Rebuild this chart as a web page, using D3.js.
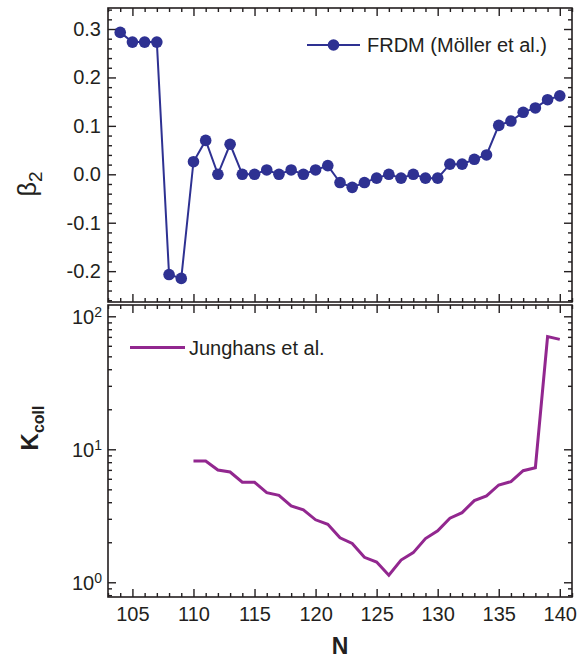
<!DOCTYPE html>
<html>
<head>
<meta charset="utf-8">
<script src="https://cdn.jsdelivr.net/npm/d3@7"></script>
<style>
  body { margin: 0; background: #fff; }
  svg { display: block; font-family: "Liberation Sans", Arial, Helvetica, sans-serif; }
</style>
</head>
<body>
<script>
// FRDM deformation (upper panel)
const frdmN = [104,105,106,107,108,109,110,111,112,113,114,115,116,117,118,119,120,121,122,
  123,124,125,126,127,128,129,130,131,132,133,134,135,136,137,138,139,140];
const frdmBeta2 = [0.293,0.273,0.273,0.273,-0.207,-0.215,0.026,0.070,0.000,0.062,0.000,0.000,
  0.009,0.000,0.009,0.000,0.009,0.018,-0.017,-0.027,-0.017,-0.008,0.000,-0.008,0.000,-0.008,
  -0.008,0.021,0.021,0.031,0.040,0.101,0.110,0.128,0.137,0.154,0.162];

// collective enhancement (lower panel)
const kollN = [110,111,112,113,114,115,116,117,118,119,120,121,122,123,124,125,126,127,128,
  129,130,131,132,133,134,135,136,137,138,139,140];
const kollK = [8.17,8.17,6.99,6.75,5.65,5.65,4.72,4.51,3.75,3.50,2.95,2.73,2.16,1.96,1.54,1.42,
  1.13,1.47,1.67,2.13,2.44,3.03,3.34,4.11,4.46,5.39,5.71,6.90,7.27,70.3,67.1];

const nTicks = [105,110,115,120,125,130,135,140];
const nMinor = [103,104,106,107,108,109,111,112,113,114,116,117,118,119,121,122,123,124,126,
  127,128,129,131,132,133,134,136,137,138,139,141];
const betaTicks = [-0.2,-0.1,0.0,0.1,0.2,0.3];
const betaMinor = [-0.26,-0.24,-0.22,-0.18,-0.16,-0.14,-0.12,-0.08,-0.06,-0.04,-0.02,0.02,0.04,
  0.06,0.08,0.12,0.14,0.16,0.18,0.22,0.24,0.26,0.28,0.32,0.34];
const kTicks = [1,10,100];
const kMinor = [0.8,0.9,2,3,4,5,6,7,8,9,20,30,40,50,60,70,80,90];

const blue = "#2e3192", purple = "#92278f";

const W = 586, H = 658;
const left = 108, right = 572;
const top1 = 8, bot1 = 302, top2 = 305, bot2 = 597;

const svg = d3.select("body").append("svg").attr("width", W).attr("height", H);

const x = d3.scaleLinear().domain([103, 141]).range([left, right]);
const yb = d3.scaleLinear().domain([-0.2637, 0.3434]).range([bot1, top1]);
const yk = d3.scaleLog().domain([0.775, 121.6]).range([bot2, top2]);

function frame(t, b) {
  svg.append("rect").attr("x", left).attr("y", t).attr("width", right - left).attr("height", b - t)
    .attr("fill", "none").attr("stroke", "#231f20").attr("stroke-width", 1.6);
}

function put(axis, tx, ty, cls) {
  const g = svg.append("g").attr("transform", `translate(${tx},${ty})`).call(axis);
  g.select(".domain").remove();
  g.selectAll(".tick line").attr("stroke", "#231f20").attr("stroke-width", 1.4);
  g.selectAll("text").attr("fill", "#231f20").style("font-size", "20px");
  return g;
}

function ticksAll(xs, ys, yv, yMinor, t, b, yfmt) {
  // x ticks, bottom and top
  put(d3.axisBottom(x).tickValues(nTicks).tickSize(-8).tickFormat(""), 0, b);
  put(d3.axisBottom(x).tickValues(nMinor).tickSize(-4).tickFormat(""), 0, b);
  put(d3.axisTop(x).tickValues(nTicks).tickSize(-8).tickFormat(""), 0, t);
  put(d3.axisTop(x).tickValues(nMinor).tickSize(-4).tickFormat(""), 0, t);
  // y ticks, left and right
  put(d3.axisLeft(ys).tickValues(yv).tickSize(-8).tickPadding(7).tickFormat(yfmt), left, 0);
  put(d3.axisLeft(ys).tickValues(yMinor).tickSize(-4).tickFormat(""), left, 0);
  put(d3.axisRight(ys).tickValues(yv).tickSize(-8).tickFormat(""), right, 0);
  put(d3.axisRight(ys).tickValues(yMinor).tickSize(-4).tickFormat(""), right, 0);
}

// ---- upper panel
ticksAll(x, yb, betaTicks, betaMinor, top1, bot1, d => d.toFixed(1));
frame(top1, bot1);

svg.append("path")
  .datum(frdmN.map((n, i) => [n, frdmBeta2[i]]))
  .attr("fill", "none").attr("stroke", blue).attr("stroke-width", 2)
  .attr("d", d3.line().x(d => x(d[0])).y(d => yb(d[1])));

svg.selectAll("circle.frdm")
  .data(frdmN.map((n, i) => [n, frdmBeta2[i]]))
  .join("circle").attr("class", "frdm")
  .attr("cx", d => x(d[0])).attr("cy", d => yb(d[1]))
  .attr("r", 5.8).attr("fill", blue);

// legend
svg.append("line").attr("x1", 307).attr("x2", 360).attr("y1", 45).attr("y2", 45)
  .attr("stroke", blue).attr("stroke-width", 2);
svg.append("circle").attr("cx", 333.5).attr("cy", 45).attr("r", 5.8).attr("fill", blue);
svg.append("text").attr("x", 367).attr("y", 45).attr("dy", "0.35em")
  .style("font-size", "20px").attr("fill", "#231f20").text("FRDM (Möller et al.)");

// β2 title
const bt = svg.append("text").attr("transform", "translate(36,184) rotate(-90)")
  .attr("text-anchor", "middle").attr("fill", "#231f20").style("font-size", "25px");
bt.append("tspan").text("β");
bt.append("tspan").attr("dy", 6).style("font-size", "19px").text("2");

// ---- lower panel
const kAx = ticksAll(x, yk, kTicks, kMinor, top2, bot2, () => "");
frame(top2, bot2);

// log tick labels with superscripts
kTicks.forEach(v => {
  const t = svg.append("text").attr("x", left - 6).attr("y", yk(v)).attr("dy", "0.4em")
    .attr("text-anchor", "end").attr("fill", "#231f20").style("font-size", "20px");
  t.append("tspan").text("10");
  t.append("tspan").attr("dy", "-0.55em").style("font-size", "14px").text(Math.round(Math.log10(v)));
});

// N tick labels
put(d3.axisBottom(x).tickValues(nTicks).tickSize(0).tickPadding(10), 0, bot2);

svg.append("path")
  .datum(kollN.map((n, i) => [n, kollK[i]]))
  .attr("fill", "none").attr("stroke", purple).attr("stroke-width", 3)
  .attr("stroke-linejoin", "miter")
  .attr("d", d3.line().x(d => x(d[0])).y(d => yk(d[1])));

svg.append("line").attr("x1", 130).attr("x2", 185).attr("y1", 347.5).attr("y2", 347.5)
  .attr("stroke", purple).attr("stroke-width", 3);
svg.append("text").attr("x", 189).attr("y", 347.5).attr("dy", "0.35em")
  .style("font-size", "20px").attr("fill", "#231f20").text("Junghans et al.");

// K_coll title
const kt = svg.append("text").attr("transform", "translate(38,428) rotate(-90)")
  .attr("text-anchor", "middle").attr("fill", "#231f20").style("font-weight", "bold").style("font-size", "24px");
kt.append("tspan").text("K");
kt.append("tspan").attr("dy", 6).style("font-size", "16px").text("coll");

// N title
svg.append("text").attr("x", (left + right) / 2).attr("y", 654).attr("text-anchor", "middle")
  .attr("fill", "#231f20").style("font-weight", "bold").style("font-size", "23px").text("N");
</script>
</body>
</html>
